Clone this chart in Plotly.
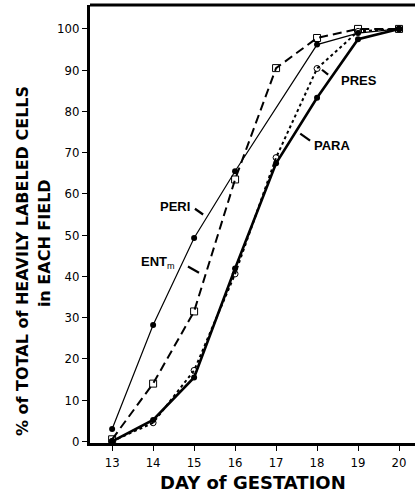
import plotly.graph_objects as go

days = [13, 14, 15, 16, 17, 18, 19, 20]
peri_days = [13, 14, 15, 16, 18, 19, 20]
peri = [3, 28.2, 49.3, 65.5, 96.2, 99, 100]
ent_m = [0.5, 14, 31.5, 63.5, 90.5, 97.8, 100, 100]
pres = [0, 4.5, 17.2, 40.6, 68.8, 90.4, 99.4, 100]
para = [0, 5.2, 15.5, 41.9, 67.4, 83.3, 97.5, 100]

x_ticks = [13, 14, 15, 16, 17, 18, 19, 20]
y_ticks = [0, 10, 20, 30, 40, 50, 60, 70, 80, 90, 100]

fig = go.Figure()
fig.add_trace(go.Scatter(x=peri_days, y=peri, mode="lines+markers", name="PERI",
                         line=dict(color="black", width=1.2),
                         marker=dict(symbol="circle", size=6, color="black")))
fig.add_trace(go.Scatter(x=days, y=ent_m, mode="lines+markers", name="ENTm",
                         line=dict(color="black", width=2, dash="9px,5px"),
                         marker=dict(symbol="square-open", size=7, color="black", line=dict(width=1))))
fig.add_trace(go.Scatter(x=days, y=pres, mode="lines+markers", name="PRES",
                         line=dict(color="black", width=2, dash="dot"),
                         marker=dict(symbol="circle-open", size=6, color="black", line=dict(width=1))))
fig.add_trace(go.Scatter(x=days, y=para, mode="lines+markers", name="PARA",
                         line=dict(color="black", width=2.6),
                         marker=dict(symbol="circle", size=6, color="black")))

lab_font = dict(family="Liberation Sans, Arial", size=13, color="black")
fig.add_annotation(x=14.54, y=56.9, text="<b>PERI</b>", showarrow=False, font=lab_font, xanchor="center")
fig.add_annotation(x=14.12, y=43.4, text="<b>ENT</b><sub>m</sub>", showarrow=False, font=lab_font, xanchor="center")
fig.add_annotation(x=19.02, y=87.4, text="<b>PRES</b>", showarrow=False, font=lab_font, xanchor="center")
fig.add_annotation(x=18.37, y=71.7, text="<b>PARA</b>", showarrow=False, font=lab_font, xanchor="center")

# leader dashes
for (x0, y0, x1, y1) in [(15.02, 56.4, 15.22, 55.0), (14.85, 42.4, 15.12, 40.9),
                         (18.12, 90.1, 18.27, 88.9), (17.59, 74.6, 17.83, 72.9)]:
    fig.add_shape(type="line", x0=x0, y0=y0, x1=x1, y1=y1, xref="x", yref="y",
                  line=dict(color="black", width=2.2))

title_font = dict(family="DejaVu Sans, Liberation Sans", size=16, color="black")
fig.add_annotation(xref="paper", yref="paper", x=0, y=0.4726, xshift=-68, yshift=-25,
                   text="<b>% of TOTAL of HEAVILY LABELED CELLS</b>",
                   textangle=-90, showarrow=False, font=title_font, xanchor="center", yanchor="middle")
fig.add_annotation(xref="paper", yref="paper", x=0, y=0.502, xshift=-46, yshift=-20,
                   text="<b>in EACH FIELD</b>",
                   textangle=-90, showarrow=False, font=title_font, xanchor="center", yanchor="middle")
fig.add_annotation(xref="paper", yref="paper", x=0.5, y=0, yshift=-39, text="<b>DAY of GESTATION</b>",
                   showarrow=False, font=dict(family="DejaVu Sans, Liberation Sans", size=18, color="black"),
                   xanchor="center", yanchor="middle")

tick_font = dict(family="DejaVu Sans Condensed, Liberation Sans Narrow, Liberation Sans", size=13, color="black")
fig.update_xaxes(range=[12.46, 20.39], tickvals=x_ticks, ticks="outside", ticklen=5, tickwidth=1.3,
                 tickcolor="black", showline=True, linecolor="black", linewidth=3, showgrid=False,
                 zeroline=False, tickfont=tick_font, mirror=False)
fig.update_yaxes(range=[-0.4, 105.8], tickvals=y_ticks, ticks="outside", ticklen=5, tickwidth=1.3,
                 tickcolor="black", showline=True, linecolor="black", linewidth=3, showgrid=False,
                 zeroline=False, tickfont=tick_font)
fig.add_shape(type="line", xref="paper", yref="paper", x0=0, x1=1, y0=1, y1=1,
              line=dict(color="black", width=3))

fig.update_layout(width=415, height=497, margin=dict(l=90, r=0, t=5, b=54),
                  plot_bgcolor="white", paper_bgcolor="white", showlegend=False)
fig.write_html("out.html", config={"displayModeBar": False},
               post_script="document.body.style.margin='0';document.body.style.overflow='hidden';")
